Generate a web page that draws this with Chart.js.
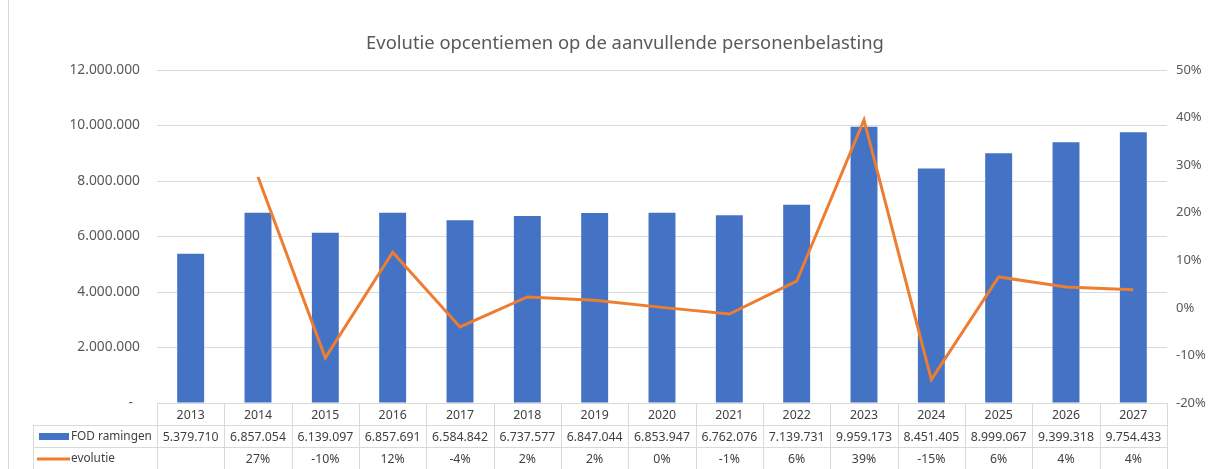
<!DOCTYPE html>
<html>
<head>
<meta charset="utf-8">
<script src="https://cdn.jsdelivr.net/npm/chart.js@4"></script>
<style>
body { margin: 0; background: #fff; }
#wrap { width: 1211px; height: 469px; position: relative; }
</style>
</head>
<body>
<div id="wrap"><canvas id="chart" width="1211" height="469"></canvas></div>
<script>
var titleText = "Evolutie opcentiemen op de aanvullende personenbelasting";
var years = ["2013", "2014", "2015", "2016", "2017", "2018", "2019", "2020", "2021", "2022", "2023", "2024", "2025", "2026", "2027"];
var fodRamingen = [5379710, 6857054, 6139097, 6857691, 6584842, 6737577, 6847044, 6853947, 6762076, 7139731, 9959173, 8451405, 8999067, 9399318, 9754433];
// evolutie in percent, as drawn by the line
var evolutie = [null, 27.5, -10.5, 11.7, -4.0, 2.3, 1.6, 0.1, -1.3, 5.6, 39.5, -15.1, 6.5, 4.4, 3.8];
// evolutie as printed in the data table
var evolutieLabels = ["", "27%", "-10%", "12%", "-4%", "2%", "2%", "0%", "-1%", "6%", "39%", "-15%", "6%", "4%", "4%"];

var barColor = "#4472C4";
var lineColor = "#ED7D31";
var gridColor = "#d9d9d9";
var textColor = "#595959";

Chart.defaults.font.family = "'Noto Sans', sans-serif";
Chart.defaults.font.size = 12;
Chart.defaults.color = textColor;

var fmt = function (v) {
	return String(v).replace(/\B(?=(\d{3})+(?!\d))/g, ".");
};

var tablePlugin = {
	id: "dataTable",
	afterDraw: function (chart) {
		var ctx = chart.ctx;
		var area = chart.chartArea;
		var colW = (area.right - area.left) / years.length;
		var rowH = 22;
		var top = area.bottom;
		var tableLeft = 33;
		ctx.save();

		// title
		ctx.fillStyle = textColor;
		ctx.font = "18.4px 'Noto Sans', sans-serif";
		ctx.textAlign = "center";
		ctx.textBaseline = "middle";
		ctx.fillText(titleText, 625, 44);

		// chart border
		ctx.strokeStyle = gridColor;
		ctx.lineWidth = 1;
		ctx.beginPath();
		ctx.moveTo(8.5, 0);
		ctx.lineTo(8.5, 469);
		ctx.stroke();

		// grid of the table
		ctx.beginPath();
		ctx.moveTo(area.left, top + 0.5);
		ctx.lineTo(area.right, top + 0.5);
		for (var r = 1; r <= 3; r++) {
			ctx.moveTo(tableLeft, top + r * rowH + 0.5);
			ctx.lineTo(area.right, top + r * rowH + 0.5);
		}
		for (var c = 0; c <= years.length; c++) {
			var cx = Math.round(area.left + c * colW) + 0.5;
			ctx.moveTo(cx, top);
			ctx.lineTo(cx, top + 3 * rowH);
		}
		ctx.moveTo(tableLeft + 0.5, top + rowH);
		ctx.lineTo(tableLeft + 0.5, top + 3 * rowH);
		ctx.stroke();

		// cell texts
		ctx.font = "12.3px 'Noto Sans', sans-serif";
		ctx.fillStyle = "#404040";
		ctx.textAlign = "center";
		for (var i = 0; i < years.length; i++) {
			var x = area.left + (i + 0.5) * colW;
			ctx.fillText(years[i], x, top + rowH * 0.5 + 1);
			ctx.fillText(fmt(fodRamingen[i]), x, top + rowH * 1.5 + 1);
			ctx.fillText(evolutieLabels[i], x, top + rowH * 2.5 + 1);
		}

		// series keys
		ctx.fillStyle = barColor;
		ctx.fillRect(39, top + rowH * 1.5 - 3, 30, 7);
		ctx.strokeStyle = lineColor;
		ctx.lineWidth = 3;
		ctx.beginPath();
		ctx.moveTo(37, top + rowH * 2.5 + 1);
		ctx.lineTo(70, top + rowH * 2.5 + 1);
		ctx.stroke();
		ctx.font = "11.8px 'Noto Sans', sans-serif";
		ctx.fillStyle = "#404040";
		ctx.textAlign = "left";
		ctx.fillText("FOD ramingen", 71, top + rowH * 1.5 + 1);
		ctx.fillText("evolutie", 71, top + rowH * 2.5 + 1);
		ctx.restore();
	},
};

new Chart(document.getElementById("chart").getContext("2d"), {
	type: "bar",
	data: {
		labels: years,
		datasets: [
			{
				type: "line",
				label: "evolutie",
				data: evolutie,
				yAxisID: "yPct",
				borderColor: lineColor,
				backgroundColor: lineColor,
				borderWidth: 3,
				pointRadius: 0,
				tension: 0,
				order: 0,
			},
			{
				type: "bar",
				label: "FOD ramingen",
				data: fodRamingen,
				yAxisID: "y",
				backgroundColor: barColor,
				categoryPercentage: 1,
				barPercentage: 0.4,
				order: 1,
			},
		],
	},
	options: {
		responsive: false,
		animation: false,
		layout: { padding: { top: 70, bottom: 66, left: 0, right: 0 } },
		plugins: {
			legend: { display: false },
			tooltip: { enabled: false },
			title: { display: false },
		},
		scales: {
			x: { display: false, offset: true },
			y: {
				position: "left",
				min: 0,
				max: 12000000,
				border: { display: false },
				grid: { color: gridColor, drawTicks: false },
				ticks: {
					stepSize: 2000000,
					padding: 17,
					font: { size: 13.8 },
					callback: function (v) {
						return v === 0 ? "-  " : fmt(v);
					},
				},
				afterFit: function (scale) {
					scale.width = 157;
				},
			},
			yPct: {
				position: "right",
				min: -20,
				max: 50,
				border: { display: false },
				grid: { display: false, drawTicks: false },
				ticks: {
					stepSize: 10,
					padding: 9,
					font: { size: 13 },
					callback: function (v) {
						return v + "%";
					},
				},
				afterFit: function (scale) {
					scale.width = 44;
				},
			},
		},
	},
	plugins: [tablePlugin],
});
</script>
</body>
</html>
